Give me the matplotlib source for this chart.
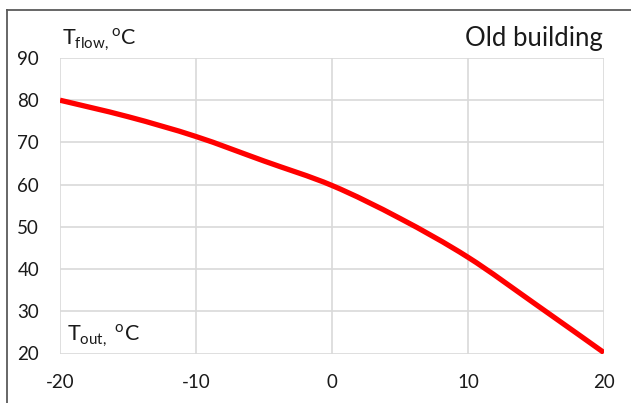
import matplotlib
matplotlib.use("Agg")
import matplotlib.pyplot as plt
from matplotlib.lines import Line2D
from matplotlib.path import Path
from matplotlib.patches import PathPatch

# Heating curve: flow temperature versus outdoor temperature
t_out = [-20, -15, -10, -5, 0, 5, 10, 15, 20]
t_flow = [80, 76.1, 71.4, 65.6, 59.8, 52.0, 42.8, 31.6, 20.2]

x_ticks = [-20, -10, 0, 10, 20]
y_ticks = [20, 30, 40, 50, 60, 70, 80, 90]

plt.rcParams['font.family'] = ['Lato', 'DejaVu Sans']
plt.rcParams['mathtext.fontset'] = 'custom'
plt.rcParams['mathtext.rm'] = 'Lato'
plt.rcParams['axes.unicode_minus'] = False


def smooth_path(xs, ys):
    """Cubic Bezier path through the points (Catmull-Rom style smoothing)."""
    pts = list(zip(xs, ys))
    n = len(pts)
    verts = [pts[0]]
    codes = [Path.MOVETO]
    for i in range(n - 1):
        p0 = pts[i - 1] if i > 0 else pts[i]
        p1 = pts[i]
        p2 = pts[i + 1]
        p3 = pts[i + 2] if i + 2 < n else pts[i + 1]
        c1 = (p1[0] + (p2[0] - p0[0]) / 6, p1[1] + (p2[1] - p0[1]) / 6)
        c2 = (p2[0] - (p3[0] - p1[0]) / 6, p2[1] - (p3[1] - p1[1]) / 6)
        verts += [c1, c2, p2]
        codes += [Path.CURVE4] * 3
    return Path(verts, codes)


fig = plt.figure(figsize=(6.31, 4.03), dpi=100)
ax = fig.add_axes([60 / 631, 1 - 353.5 / 403, (604 - 60) / 631, (353.5 - 58) / 403])

ax.add_patch(PathPatch(smooth_path(t_out, t_flow), fill=False, edgecolor='#ff0000',
                       linewidth=3.8, capstyle='butt', zorder=3))

ax.set_xlim(-20, 20)
ax.set_ylim(20, 90)
ax.set_xticks(x_ticks)
ax.set_yticks(y_ticks)
ax.grid(True, color='#d9d9d9', linewidth=1.2)
ax.set_axisbelow(True)
for s in ax.spines.values():
    s.set_visible(False)
ax.tick_params(length=0, labelsize=13.5, colors='#1a1a1a')
ax.tick_params(axis='y', pad=15)
ax.tick_params(axis='x', pad=15)

# Axis captions
fig.text(62 / 631, 1 - 45 / 403, r'T$_{\mathregular{flow,}}$$^{\mathregular{o}}$C',
         fontsize=15.5, color='#1a1a1a', ha='left', va='baseline')
fig.text(67 / 631, 1 - 341 / 403, r'T$_{\mathregular{out,}}$ $^{\mathregular{o}}$C',
         fontsize=15.5, color='#1a1a1a', ha='left', va='baseline')
fig.text(603 / 631, 1 - 46 / 403, 'Old building', fontsize=18.5, color='#1a1a1a',
         ha='right', va='baseline')

# Outer frame lines (top and left)
fig.add_artist(Line2D([7 / 631, 1], [1 - 10 / 403, 1 - 10 / 403], color='#5a5a5a', linewidth=1.3))
fig.add_artist(Line2D([7 / 631, 7 / 631], [0, 1 - 10 / 403], color='#5a5a5a', linewidth=1.3))

fig.savefig('out.png', dpi=100)
